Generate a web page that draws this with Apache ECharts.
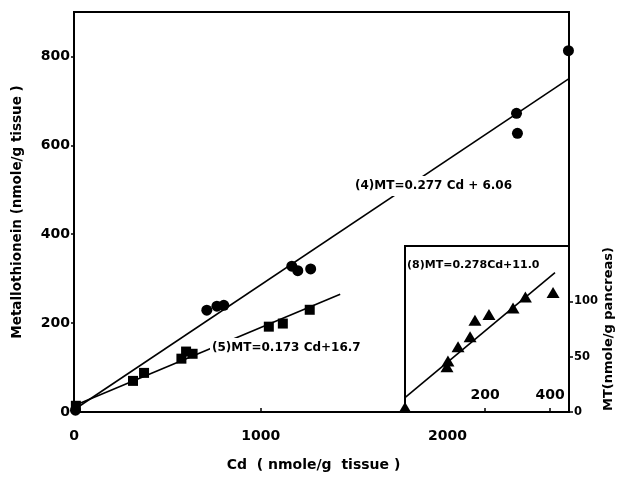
<!DOCTYPE html>
<html>
  <head>
      <meta charset="utf-8">
      <script src="https://cdn.jsdelivr.net/npm/echarts@6/dist/echarts.min.js"></script>
  </head>
  <body style="margin:0;background:#fff">
      <div id="main" style="width: 617px;height:478px;"></div>
      <script type="text/javascript">
          // main panel: Cd vs MT (nmole/g tissue)
          var circlePts = [[8, 4], [711, 229], [765, 238], [802, 240], [1166, 328], [1198, 318], [1267, 322], [2369, 672], [2374, 627], [2647, 813]];
          var squarePts = [[10, 14], [316, 70], [375, 88], [575, 120], [600, 136], [635, 131], [1043, 192], [1118, 199], [1262, 230]];
          // fitted lines, end points
          var fit4 = [[0, 5], [2650, 750]];
          var fit5 = [[0, 14], [1425, 265]];
          // inset: pancreas
          var trianglePts = [[-46, 4], [83, 41], [86, 46], [117, 59], [154, 68], [169, 83], [212, 88], [286, 94], [324, 104], [409, 108]];
          var fit8 = [[-46, 13], [415, 126]];
          var insetXTicks = [200, 400];

          var font = 'DejaVu Sans';
          var black = '#000';
          var plain = function (v) { return String(v); };

          var myChart = echarts.init(document.getElementById('main'));

          var option = {
              backgroundColor: '#fff',
              animation: false,
              grid: [
                  {left: 74, top: 12, right: 48, bottom: 66, show: true, borderColor: black, borderWidth: 2},
                  {left: 405, top: 246, right: 48, bottom: 66, show: true, borderColor: black, borderWidth: 2}
              ],
              xAxis: [
                  {
                      gridIndex: 0, type: 'value', min: 0, max: 2650, interval: 1000,
                      name: 'Cd  ( nmole/g  tissue )', nameLocation: 'middle', nameGap: 46,
                      nameTextStyle: {fontFamily: font, fontWeight: 'bold', fontSize: 14, color: black, padding: [0, 16, 0, 0]},
                      axisLine: {onZero: false, lineStyle: {color: black, width: 2}},
                      axisTick: {inside: true, length: 4, lineStyle: {color: black, width: 1.5}, customValues: [1000]},
                      axisLabel: {fontFamily: font, fontWeight: 'bold', fontSize: 14, color: black, margin: 17, showMaxLabel: false, formatter: plain},
                      splitLine: {show: false}
                  },
                  {
                      gridIndex: 1, type: 'value', min: -46, max: 458,
                      axisLine: {onZero: false, lineStyle: {color: black, width: 2}},
                      axisTick: {inside: true, length: 4, lineStyle: {color: black, width: 1.5}, customValues: insetXTicks},
                      axisLabel: {inside: true, fontFamily: font, fontWeight: 'bold', fontSize: 14, color: black, margin: 10, customValues: insetXTicks},
                      splitLine: {show: false}
                  }
              ],
              yAxis: [
                  {
                      gridIndex: 0, type: 'value', min: 0, max: 900, interval: 200,
                      name: 'Metallothionein (nmole/g tissue )', nameLocation: 'middle', nameGap: 50, nameRotate: 90,
                      nameTextStyle: {fontFamily: font, fontWeight: 'bold', fontSize: 13.5, color: black},
                      axisLine: {onZero: false, lineStyle: {color: black, width: 2}},
                      axisTick: {length: 3, lineStyle: {color: black, width: 1.5}},
                      axisLabel: {fontFamily: font, fontWeight: 'bold', fontSize: 14, color: black, margin: 4, showMaxLabel: false, formatter: plain},
                      splitLine: {show: false}
                  },
                  {
                      gridIndex: 1, type: 'value', position: 'right', min: 0, max: 150, interval: 50,
                      name: 'MT(nmole/g pancreas)', nameLocation: 'middle', nameGap: 32, nameRotate: 90,
                      nameTextStyle: {fontFamily: font, fontWeight: 'bold', fontSize: 13, color: black},
                      axisLine: {onZero: false, lineStyle: {color: black, width: 2}},
                      axisTick: {length: 4, lineStyle: {color: black, width: 1.5}},
                      axisLabel: {fontFamily: font, fontWeight: 'bold', fontSize: 11.5, color: black, margin: 5, showMaxLabel: false},
                      splitLine: {show: false}
                  }
              ],
              series: [
                  {
                      name: 'fit4', type: 'line', xAxisIndex: 0, yAxisIndex: 0, data: fit4,
                      showSymbol: false, lineStyle: {color: black, width: 1.6}, z: 1
                  },
                  {
                      name: 'fit5', type: 'line', xAxisIndex: 0, yAxisIndex: 0, data: fit5,
                      showSymbol: false, lineStyle: {color: black, width: 1.6}, z: 1
                  },
                  {
                      name: 'circles', type: 'scatter', xAxisIndex: 0, yAxisIndex: 0, data: circlePts,
                      symbol: 'circle', symbolSize: 11, itemStyle: {color: black, opacity: 1}, z: 3
                  },
                  {
                      name: 'squares', type: 'scatter', xAxisIndex: 0, yAxisIndex: 0, data: squarePts,
                      symbol: 'rect', symbolSize: 10, itemStyle: {color: black, opacity: 1}, z: 3
                  },
                  {
                      name: 'fit8', type: 'line', xAxisIndex: 1, yAxisIndex: 1, data: fit8,
                      showSymbol: false, lineStyle: {color: black, width: 1.6}, z: 1
                  },
                  {
                      name: 'triangles', type: 'scatter', xAxisIndex: 1, yAxisIndex: 1, data: trianglePts,
                      symbol: 'triangle', symbolSize: [13, 11], itemStyle: {color: black, opacity: 1}, z: 3
                  }
              ],
              graphic: [
                  {
                      type: 'text', left: 352, top: 176, z: 10,
                      style: {text: '(4)MT=0.277 Cd + 6.06', font: 'bold 12px "DejaVu Sans"', fill: black, backgroundColor: '#fff', padding: [4, 3, 4, 3]}
                  },
                  {
                      type: 'text', left: 210, top: 338, z: 10,
                      style: {text: '(5)MT=0.173 Cd+16.7', font: 'bold 12px "DejaVu Sans"', fill: black, backgroundColor: '#fff', padding: [4, 2, 3, 2]}
                  },
                  {
                      type: 'text', left: 407, top: 260, z: 10,
                      style: {text: '(8)MT=0.278Cd+11.0', font: 'bold 11px "DejaVu Sans"', fill: black}
                  }
              ]
          };
          myChart.setOption(option);
      </script>
  </body>
</html>
